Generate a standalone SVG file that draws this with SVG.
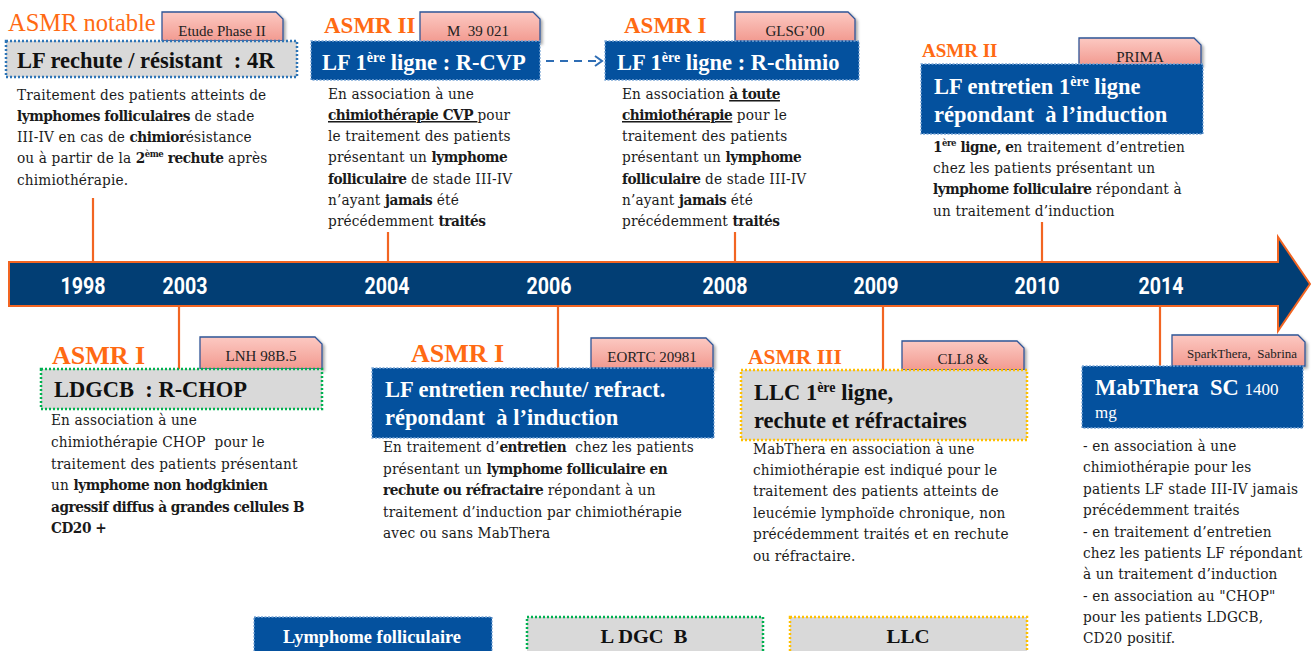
<svg xmlns="http://www.w3.org/2000/svg" width="1315" height="651" viewBox="0 0 1315 651">
<defs>
<linearGradient id="pink" x1="0" y1="0" x2="0" y2="1">
<stop offset="0" stop-color="#fcc9c2"/>
<stop offset="1" stop-color="#f29a90"/>
</linearGradient>
<filter id="sh" x="-10%" y="-10%" width="130%" height="140%">
<feDropShadow dx="2" dy="2" stdDeviation="1.5" flood-color="#000" flood-opacity="0.35"/>
</filter>
<marker id="chev" markerWidth="12" markerHeight="12" refX="9" refY="6" orient="auto" markerUnits="userSpaceOnUse">
<path d="M2,1 L9,6 L2,11" fill="none" stroke="#2e6db4" stroke-width="2"/>
</marker>
</defs>
<style>
text{font-family:"Liberation Serif","Times New Roman",serif;}
.body{font-family:"DejaVu Serif Condensed","DejaVu Serif",serif;font-stretch:condensed;font-size:15.2px;letter-spacing:0.15px;fill:#1a1a1a;}
.b{font-weight:bold;}
.body .b{letter-spacing:-0.45px;}
.u{text-decoration:underline;}
.asmr{font-size:23px;font-weight:bold;fill:#ff6a13;}
.tag{fill:url(#pink);stroke:#2f5597;stroke-width:1.3;filter:url(#sh);}
.tagt{font-size:15px;fill:#222;text-anchor:middle;}
.blue{fill:#04519e;stroke:#7aa6d6;stroke-width:1.3;stroke-dasharray:2 1.5;}
.grayb{fill:#d9d9d9;stroke:#2e75b6;stroke-width:2.5;stroke-dasharray:2 2;}
.grayg{fill:#d9d9d9;stroke:#00b050;stroke-width:2.5;stroke-dasharray:2 2;}
.grayy{fill:#d9d9d9;stroke:#ffc000;stroke-width:2.5;stroke-dasharray:2 2;}
.tw{font-size:22.5px;font-weight:bold;fill:#fff;}
.tk{font-size:22.5px;font-weight:bold;fill:#111;}
.stem{stroke:#f26522;stroke-width:2.2;fill:none;}
.year{font-family:Roboto,"Liberation Sans",sans-serif;font-size:24px;font-weight:bold;fill:#fff;text-anchor:middle;}
.leg{font-size:19px;font-weight:bold;text-anchor:middle;}
</style>

<g id="timeline">
<path d="M9,262 H1278 V237 L1310,284 L1278,331 V306 H9 Z" fill="#023e74" stroke="#f26522" stroke-width="2"/>
<text class="year" x="83" y="294" textLength="45" lengthAdjust="spacingAndGlyphs">1998</text>
<text class="year" x="185" y="294" textLength="45" lengthAdjust="spacingAndGlyphs">2003</text>
<text class="year" x="387" y="294" textLength="45" lengthAdjust="spacingAndGlyphs">2004</text>
<text class="year" x="549" y="294" textLength="45" lengthAdjust="spacingAndGlyphs">2006</text>
<text class="year" x="725" y="294" textLength="45" lengthAdjust="spacingAndGlyphs">2008</text>
<text class="year" x="876" y="294" textLength="45" lengthAdjust="spacingAndGlyphs">2009</text>
<text class="year" x="1037" y="294" textLength="45" lengthAdjust="spacingAndGlyphs">2010</text>
<text class="year" x="1161" y="294" textLength="45" lengthAdjust="spacingAndGlyphs">2014</text>
</g>

<g id="connectors">
<line class="stem" x1="93" y1="198" x2="93" y2="262"/>
<line class="stem" x1="388" y1="232" x2="388" y2="262"/>
<line class="stem" x1="735" y1="232" x2="735" y2="262"/>
<line class="stem" x1="1042" y1="222" x2="1042" y2="262"/>
<line class="stem" x1="179" y1="306" x2="179" y2="369"/>
<line class="stem" x1="558" y1="306" x2="558" y2="368"/>
<line class="stem" x1="883" y1="306" x2="883" y2="370"/>
<line class="stem" x1="1160" y1="306" x2="1160" y2="366"/>
<line x1="546" y1="61" x2="602" y2="61" stroke="#2e6db4" stroke-width="2" stroke-dasharray="8 6" marker-end="url(#chev)"/>
</g>

<g id="n1998">
<text x="8" y="31" style="font-size:24.5px;fill:#ff6a13;">ASMR notable</text>
<path class="tag" d="M162,12 H276 L283,19 V41 H162 Z"/>
<text class="tagt" x="222" y="36">Etude Phase II</text>
<rect class="grayb" x="6" y="41" width="291" height="36"/>
<text class="tk" x="17" y="68">LF rechute / résistant&#160; : 4R</text>
<text class="body" x="17" y="100">Traitement des patients atteints de</text>
<text class="body" x="17" y="121"><tspan class="b">lymphomes folliculaires</tspan> de stade</text>
<text class="body" x="17" y="142">III-IV en cas de <tspan class="b">chimior</tspan>ésistance</text>
<text class="body" x="17" y="163">ou à partir de la <tspan class="b">2</tspan><tspan class="b" style="font-size:9.5px" dy="-6">ème</tspan><tspan class="b" dy="6"> rechute</tspan> après</text>
<text class="body" x="17" y="185">chimiothérapie.</text>
</g>

<g id="n2004">
<text class="asmr" x="324" y="33">ASMR II</text>
<path class="tag" d="M420,12 H533 L540,19 V42 H420 Z"/>
<text class="tagt" x="478" y="36">M&#160; 39 021</text>
<rect class="blue" x="311" y="41" width="229" height="39"/>
<text class="tw" x="322" y="70">LF 1<tspan style="font-size:14px" dy="-8">ère</tspan><tspan dy="8"> ligne : R-CVP</tspan></text>
<text class="body" x="328" y="99">En association à une</text>
<text class="body" x="328" y="120"><tspan class="b u">chimiothérapie CVP </tspan> pour</text>
<text class="body" x="328" y="141">le traitement des patients</text>
<text class="body" x="328" y="162">présentant un <tspan class="b">lymphome</tspan></text>
<text class="body" x="328" y="184"><tspan class="b">folliculaire</tspan> de stade III-IV</text>
<text class="body" x="328" y="205">n’ayant <tspan class="b">jamais</tspan> été</text>
<text class="body" x="328" y="226">précédemment <tspan class="b">traités</tspan></text>
</g>

<g id="n2008">
<text class="asmr" x="624" y="33">ASMR I</text>
<path class="tag" d="M735,12 H848 L855,19 V41 H735 Z"/>
<text class="tagt" x="795" y="36">GLSG’00</text>
<rect class="blue" x="605" y="41" width="254" height="39"/>
<text class="tw" x="617" y="70">LF 1<tspan style="font-size:14px" dy="-8">ère</tspan><tspan dy="8"> ligne : R-chimio</tspan></text>
<text class="body" x="622" y="99">En association <tspan class="b u">à toute</tspan></text>
<text class="body" x="622" y="120"><tspan class="b u">chimiothérapie</tspan> pour le</text>
<text class="body" x="622" y="141">traitement des patients</text>
<text class="body" x="622" y="162">présentant un <tspan class="b">lymphome</tspan></text>
<text class="body" x="622" y="184"><tspan class="b">folliculaire</tspan> de stade III-IV</text>
<text class="body" x="622" y="205">n’ayant <tspan class="b">jamais</tspan> été</text>
<text class="body" x="622" y="226">précédemment <tspan class="b">traités</tspan></text>
</g>

<g id="n2010">
<text class="asmr" x="922" y="57" style="font-size:19px">ASMR II</text>
<path class="tag" d="M1079,38 H1194 L1201,45 V65 H1079 Z"/>
<text class="tagt" x="1140" y="62">PRIMA</text>
<rect class="blue" x="921" y="64" width="282" height="70"/>
<text class="tw" x="934" y="94">LF entretien 1<tspan style="font-size:14px" dy="-8">ère</tspan><tspan dy="8"> ligne</tspan></text>
<text class="tw" x="934" y="122">répondant&#160; à l’induction</text>
<text class="body" x="933" y="152"><tspan class="b">1</tspan><tspan class="b" style="font-size:9.5px" dy="-6">ère</tspan><tspan class="b" dy="6"> ligne, e</tspan>n traitement d’entretien</text>
<text class="body" x="933" y="173">chez les patients présentant un</text>
<text class="body" x="933" y="194"><tspan class="b">lymphome folliculaire</tspan> répondant à</text>
<text class="body" x="933" y="216">un traitement d’induction</text>
</g>

<g id="n2003">
<text class="asmr" x="52" y="364" style="font-size:26px">ASMR I</text>
<path class="tag" d="M200,337 H315 L322,344 V369 H200 Z"/>
<text class="tagt" x="261" y="361">LNH 98B.5</text>
<rect class="grayg" x="41" y="369" width="281" height="40"/>
<text class="tk" x="54" y="397">LDGCB&#160; : R-CHOP</text>
<text class="body" x="51" y="425">En association à une</text>
<text class="body" x="51" y="447">chimiothérapie CHOP&#160; pour le</text>
<text class="body" x="51" y="469">traitement des patients présentant</text>
<text class="body" x="51" y="490">un <tspan class="b">lymphome non hodgkinien</tspan></text>
<text class="body" x="51" y="512"><tspan class="b">agressif diffus à grandes cellules B</tspan></text>
<text class="body" x="51" y="533"><tspan class="b">CD20 +</tspan></text>
</g>

<g id="n2006">
<text class="asmr" x="411" y="362" style="font-size:26px">ASMR I</text>
<path class="tag" d="M591,338 H706 L713,345 V368 H591 Z"/>
<text class="tagt" x="652" y="362">EORTC 20981</text>
<rect class="blue" x="372" y="368" width="342" height="70"/>
<text class="tw" x="385" y="397">LF entretien rechute/ refract.</text>
<text class="tw" x="385" y="425">répondant&#160; à l’induction</text>
<text class="body" x="383" y="452">En traitement d’<tspan class="b">entretien</tspan>&#160; chez les patients</text>
<text class="body" x="383" y="474">présentant un <tspan class="b">lymphome folliculaire en</tspan></text>
<text class="body" x="383" y="495"><tspan class="b">rechute ou réfractaire</tspan> répondant à un</text>
<text class="body" x="383" y="517">traitement d’induction par chimiothérapie</text>
<text class="body" x="383" y="538">avec ou sans MabThera</text>
</g>

<g id="n2009">
<text class="asmr" x="748" y="364" style="font-size:21.5px">ASMR III</text>
<path class="tag" d="M902,341 H1017 L1024,348 V370 H902 Z"/>
<text class="tagt" x="963" y="364">CLL8 &amp;</text>
<rect class="grayy" x="741" y="370" width="286" height="70"/>
<text class="tk" x="754" y="400">LLC 1<tspan style="font-size:14px" dy="-8">ère</tspan><tspan dy="8"> ligne,</tspan></text>
<text class="tk" x="754" y="428">rechute et réfractaires</text>
<text class="body" x="753" y="454">MabThera en association à une</text>
<text class="body" x="753" y="475">chimiothérapie est indiqué pour le</text>
<text class="body" x="753" y="496">traitement des patients atteints de</text>
<text class="body" x="753" y="518">leucémie lymphoïde chronique, non</text>
<text class="body" x="753" y="539">précédemment traités et en rechute</text>
<text class="body" x="753" y="561">ou réfractaire.</text>
</g>

<g id="n2014">
<path class="tag" d="M1172,335 H1298 L1305,342 V366 H1172 Z"/>
<text class="tagt" x="1242" y="358" style="font-size:13px">SparkThera,&#160; Sabrina</text>
<rect class="blue" x="1082" y="366" width="221" height="62"/>
<text class="tw" x="1095" y="395">MabThera&#160; SC <tspan style="font-weight:normal;font-size:17px">1400</tspan></text>
<text x="1095" y="418" style="font-size:17px;fill:#fff">mg</text>
<text class="body" x="1083" y="451">- en association à une</text>
<text class="body" x="1083" y="472">chimiothérapie pour les</text>
<text class="body" x="1083" y="494">patients LF stade III-IV jamais</text>
<text class="body" x="1083" y="515">précédemment traités</text>
<text class="body" x="1083" y="537">- en traitement d’entretien</text>
<text class="body" x="1083" y="558">chez les patients LF répondant</text>
<text class="body" x="1083" y="579">à un traitement d’induction</text>
<text class="body" x="1083" y="601">- en association au "CHOP"</text>
<text class="body" x="1083" y="622">pour les patients LDGCB,</text>
<text class="body" x="1083" y="643">CD20 positif.</text>
</g>

<g id="legend">
<rect class="blue" x="254" y="617" width="238" height="40"/>
<text class="leg" x="372" y="643" fill="#fff" textLength="178" lengthAdjust="spacingAndGlyphs">Lymphome folliculaire</text>
<rect class="grayg" x="527" y="617" width="236" height="40"/>
<text class="leg" x="644" y="643" fill="#111" textLength="87" lengthAdjust="spacingAndGlyphs">L DGC&#160; B</text>
<rect class="grayy" x="790" y="617" width="237" height="40"/>
<text class="leg" x="908" y="643" fill="#111" textLength="43" lengthAdjust="spacingAndGlyphs">LLC</text>
</g>
</svg>
